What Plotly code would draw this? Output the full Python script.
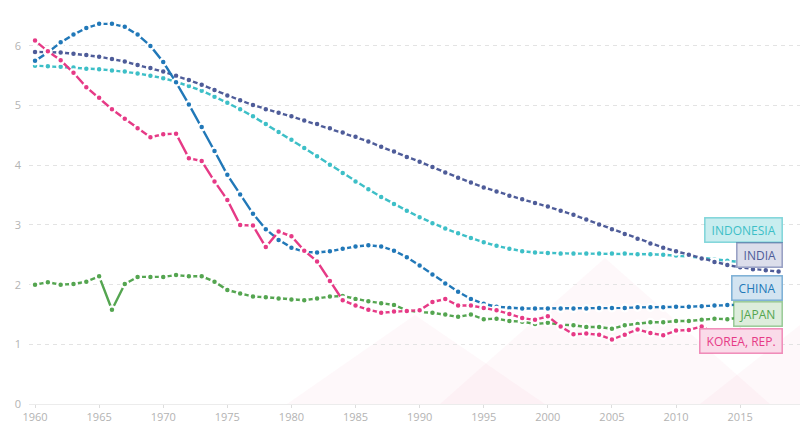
import plotly.graph_objects as go

years = list(range(1960, 2019))

china = [5.75, 5.89, 6.06, 6.19, 6.30, 6.37, 6.37, 6.32, 6.19, 6.00,
         5.73, 5.39, 5.02, 4.64, 4.24, 3.84, 3.51, 3.19, 2.93, 2.75,
         2.62, 2.55, 2.54, 2.56, 2.60, 2.64, 2.66, 2.64, 2.57, 2.46,
         2.32, 2.17, 2.02, 1.88, 1.76, 1.68, 1.63, 1.61, 1.60, 1.60,
         1.60, 1.60, 1.60, 1.60, 1.61, 1.61, 1.61, 1.62, 1.62, 1.62,
         1.63, 1.63, 1.64, 1.65, 1.66, 1.67, 1.68, 1.69, 1.69]

india = [5.90, 5.90, 5.89, 5.87, 5.85, 5.82, 5.78, 5.74, 5.68, 5.63,
         5.57, 5.50, 5.43, 5.35, 5.26, 5.17, 5.09, 5.01, 4.94, 4.88,
         4.82, 4.75, 4.69, 4.62, 4.55, 4.48, 4.40, 4.31, 4.23, 4.14,
         4.06, 3.97, 3.88, 3.79, 3.71, 3.63, 3.56, 3.49, 3.43, 3.37,
         3.31, 3.24, 3.17, 3.09, 3.01, 2.93, 2.85, 2.77, 2.69, 2.62,
         2.56, 2.50, 2.44, 2.38, 2.33, 2.29, 2.26, 2.24, 2.22]

indonesia = [5.67, 5.66, 5.65, 5.64, 5.62, 5.61, 5.59, 5.57, 5.54, 5.50,
             5.46, 5.40, 5.33, 5.25, 5.15, 5.05, 4.94, 4.82, 4.69, 4.56,
             4.43, 4.29, 4.15, 4.01, 3.87, 3.73, 3.60, 3.47, 3.35, 3.24,
             3.13, 3.03, 2.94, 2.86, 2.78, 2.71, 2.65, 2.60, 2.56, 2.54,
             2.53, 2.52, 2.52, 2.52, 2.52, 2.52, 2.52, 2.51, 2.51, 2.50,
             2.49, 2.47, 2.45, 2.42, 2.40, 2.38, 2.36, 2.34, 2.32]

japan = [2.00, 2.04, 2.00, 2.01, 2.05, 2.14, 1.58, 2.01, 2.13, 2.13,
         2.13, 2.16, 2.14, 2.14, 2.05, 1.91, 1.85, 1.80, 1.79, 1.77,
         1.75, 1.74, 1.77, 1.80, 1.81, 1.76, 1.72, 1.69, 1.66, 1.57,
         1.54, 1.53, 1.50, 1.46, 1.50, 1.42, 1.43, 1.39, 1.38, 1.34,
         1.36, 1.33, 1.32, 1.29, 1.29, 1.26, 1.32, 1.34, 1.37, 1.37,
         1.39, 1.39, 1.41, 1.43, 1.42, 1.45, 1.44, 1.43, 1.42]

korea = [6.09, 5.91, 5.76, 5.55, 5.31, 5.13, 4.94, 4.78, 4.62, 4.47,
         4.52, 4.53, 4.12, 4.07, 3.73, 3.42, 3.00, 2.99, 2.63, 2.89,
         2.81, 2.57, 2.39, 2.06, 1.74, 1.65, 1.58, 1.53, 1.55, 1.56,
         1.57, 1.71, 1.76, 1.65, 1.65, 1.61, 1.57, 1.51, 1.44, 1.41,
         1.47, 1.30, 1.17, 1.18, 1.16, 1.08, 1.16, 1.25, 1.19, 1.15,
         1.23, 1.24, 1.30, 1.19, 1.21, 1.24, 1.17, 1.05, 0.98]

names = ["INDONESIA", "INDIA", "CHINA", "JAPAN", "KOREA, REP."]
series = [indonesia, india, china, japan, korea]
colors = ["#3dbfc7", "#4e5c99", "#2178b8", "#54a550", "#e63a86"]
fills = ["rgba(61,191,199,0.28)", "rgba(78,92,153,0.20)", "rgba(33,120,184,0.20)",
         "rgba(84,165,80,0.20)", "rgba(230,58,134,0.18)"]
borders = ["rgba(61,191,199,0.6)", "rgba(78,92,153,0.55)", "rgba(33,120,184,0.55)",
           "rgba(84,165,80,0.55)", "rgba(230,58,134,0.55)"]
label_y = [2.92, 2.49, 1.95, 1.51, 1.06]

fig = go.Figure()

# faint watermark mountains (decoration, paper coords)
W, H = 771.0, 404.0
def px(x, y):
    return (x - 29) / W, 1 - y / H
tris = [[(287, 404), (415, 315), (545, 404)],
        [(440, 404), (605, 258), (770, 404)],
        [(700, 404), (800, 325), (800, 404)]]
for t in tris:
    pts = [px(*p) for p in t]
    path = "M " + " L ".join(f"{a:.4f},{b:.4f}" for a, b in pts) + " Z"
    fig.add_shape(type="path", path=path, xref="paper", yref="paper",
                  fillcolor="rgba(240,150,185,0.07)", line=dict(width=0), layer="below")

for name, vals, col in zip(names, series, colors):
    fig.add_trace(go.Scatter(
        x=years, y=vals, name=name, mode="lines+markers",
        line=dict(color=col, width=2.4),
        marker=dict(size=6.8, color=col, line=dict(color="white", width=2.3)),
        showlegend=False, hoverinfo="skip"))

xr = (783 - 29) / 771.0
for name, col, ly in zip(names, colors, label_y):
    fig.add_annotation(x=xr, xref="paper", y=ly, yref="y", text="\u00a0" + name + "\u00a0",
                       showarrow=False, xanchor="right", yanchor="middle",
                       font=dict(family="Open Sans", size=12, color="rgba(0,0,0,0)"),
                       bgcolor="white", borderwidth=0, borderpad=4)
for name, col, fc, bc, ly in zip(names, colors, fills, borders, label_y):
    fig.add_annotation(x=xr, xref="paper", y=ly, yref="y", text="\u00a0" + name + "\u00a0",
                       showarrow=False, xanchor="right", yanchor="middle",
                       font=dict(family="Open Sans", size=12, color=col),
                       bgcolor=fc, bordercolor=bc, borderwidth=1.5, borderpad=3)

fig.update_layout(
    width=800, height=445,
    margin=dict(l=29, r=0, t=0, b=41),
    paper_bgcolor="white", plot_bgcolor="rgba(0,0,0,0)",
    font=dict(family="Open Sans", color="#b3b3b3", size=11),
    xaxis=dict(range=[1959.53, 2019.67], tickmode="linear", tick0=1960, dtick=5,
               showgrid=False, zeroline=False, ticks="outside", ticklen=3,
               tickcolor="#dddddd", tickfont=dict(size=11, color="#b3b3b3"),
               showline=False),
    yaxis=dict(range=[0, 6.77], tickmode="linear", tick0=0, dtick=1,
               showgrid=True, gridcolor="#e3e3e3", griddash="4px,4px",
               zeroline=True, zerolinecolor="#ececec", zerolinewidth=1,
               tickfont=dict(size=11, color="#b3b3b3"), ticks="", ticklabelstandoff=7),
)

fig.write_html("out.html")
